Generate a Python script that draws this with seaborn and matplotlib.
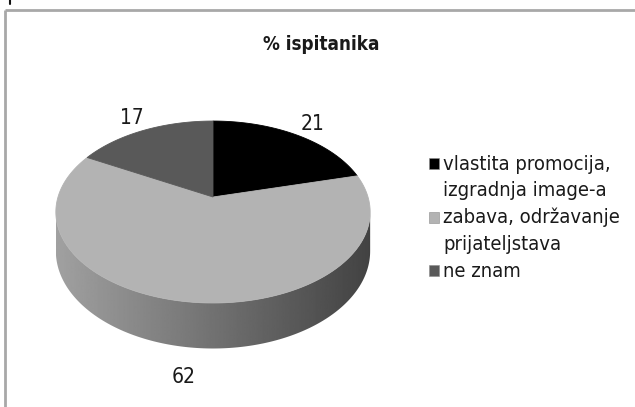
import numpy as np
import matplotlib
matplotlib.use('Agg')
import matplotlib.pyplot as plt
from matplotlib.patches import Polygon, Rectangle
import seaborn as sns

# ── Data ──────────────────────────────────────────────────────────────
title = '% ispitanika'
categories = ['vlastita promocija,\nizgradnja image-a',
              'zabava, održavanje\nprijateljstava',
              'ne znam']
values = [21, 62, 17]
slice_colors = ['#000000', '#b3b3b3', '#595959']

# ── Style ─────────────────────────────────────────────────────────────
sns.set_theme(style='white')
plt.rcParams['font.family'] = ['DejaVu Sans']
plt.rcParams['font.stretch'] = 'condensed'

W, H = 635, 407
fig = plt.figure(figsize=(W / 100, H / 100), dpi=100)
ax = fig.add_axes([0, 0, 1, 1])

# ── 3D pie projection (perspective ellipse) ──────────────────────────
CX, CY = 213, 197
A, B, K, DEPTH = 155, 88.5, 0.165, 38


def proj(theta_deg, r=1.0, depth=0.0):
    t = np.radians(theta_deg)
    X = r * np.sin(t)
    Z = r * np.cos(t)
    s = 1 / (1 + K * Z)
    return CX + A * X * s, CY - B * Z * s + depth * s


# front side wall with left-to-right shading
t_edge = np.degrees(np.arccos(-K))
ts = np.linspace(t_edge, 360 - t_edge, 200)
top = np.array([proj(t) for t in ts])
bot = np.array([proj(t, depth=DEPTH) for t in ts[::-1]])
side = Polygon(np.vstack([top, bot]), closed=True, facecolor='none', edgecolor='none')
ax.add_patch(side)
xmin, xmax = top[:, 0].min(), top[:, 0].max()
grad = np.linspace(0.63, 0.26, 256)[None, :]
im = ax.imshow(grad, cmap='gray', vmin=0, vmax=1, aspect='auto',
               extent=(xmin, xmax, H, 0), interpolation='bilinear')
im.set_clip_path(side)
ax.set_xlim(0, W)
ax.set_ylim(H, 0)
ax.axis('off')

# top face slices, clockwise from 12 o'clock
total = sum(values)
start = 0.0
for val, col in zip(values, slice_colors):
    span = 360.0 * val / total
    arc = np.linspace(start, start + span, max(int(span), 2) * 2)
    pts = [(CX, CY)] + [proj(t) for t in arc]
    ax.add_patch(Polygon(pts, closed=True, facecolor=col, edgecolor=col, lw=0.6))
    mid = start + span / 2
    front = np.cos(np.radians(mid)) < 0
    lx, ly = proj(mid, r=1.21, depth=DEPTH if front else 0)
    ax.text(lx, ly, f'{val}', ha='center', va='center', fontsize=15, color='#1a1a1a')
    start += span

# ── Title ─────────────────────────────────────────────────────────────
ax.text(321, 44, title, ha='center', va='center', fontsize=13.5,
        fontweight='bold', color='#1a1a1a')

# ── Legend ────────────────────────────────────────────────────────────
line_y = 164
step = 26.8
for label, col in zip(categories, slice_colors):
    ax.add_patch(Rectangle((429, line_y - 6), 10, 11, facecolor=col,
                           edgecolor='#8c8c8c', lw=0.4))
    for line in label.split('\n'):
        ax.text(443, line_y, line, ha='left', va='center', fontsize=14.5,
                color='#1a1a1a')
        line_y += step

# ── Frame ─────────────────────────────────────────────────────────────
ax.plot([5, 5], [H, 10], color='#a8a8a8', lw=2, solid_capstyle='butt')
ax.plot([5, W], [10, 10], color='#a8a8a8', lw=2, solid_capstyle='butt')
ax.plot([10, 10], [0, 3.5], color='#111111', lw=1.5)

fig.savefig('out.png', dpi=100)
